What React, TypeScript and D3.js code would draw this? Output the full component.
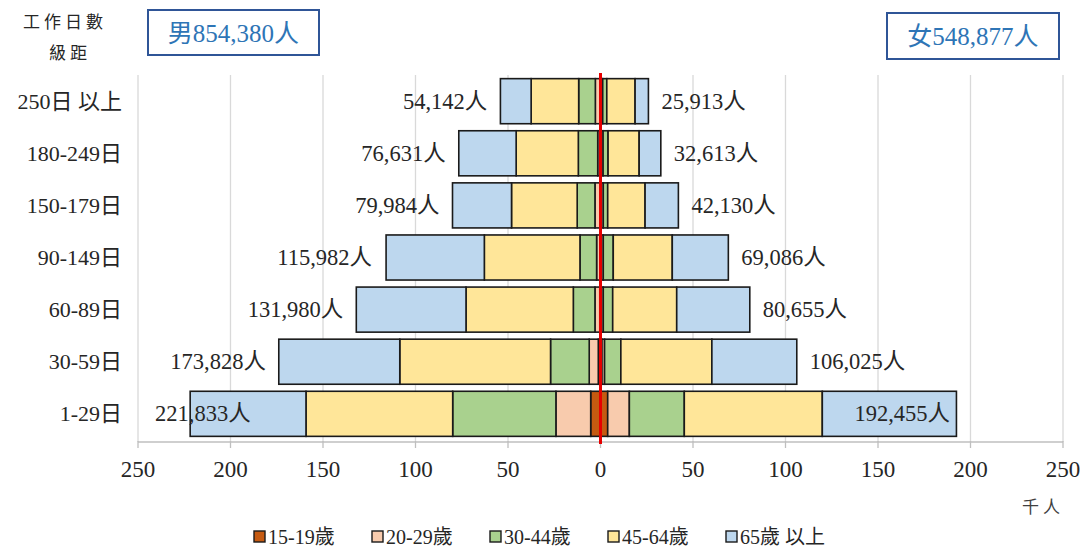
import React from "react";
import * as d3 from "d3";

const categories = ["250日 以上", "180-249日", "150-179日", "90-149日", "60-89日", "30-59日", "1-29日"];
const ageGroups = ["15-19歲", "20-29歲", "30-44歲", "45-64歲", "65歲 以上"];
const ageColors = ["#C55A11", "#F8CBAD", "#A9D18E", "#FFE699", "#BDD7EE"];

const maleTotals = [54142, 76631, 79984, 115982, 131980, 173828, 221833];
const femaleTotals = [25913, 32613, 42130, 69086, 80655, 106025, 192455];

// thousands of persons, per category (top to bottom)
const male1519 = [0.3, 0.3, 0.3, 0.3, 0.4, 1.2, 5.3];
const male2029 = [2.5, 1.2, 2.7, 1.8, 2.6, 4.9, 18.8];
const male3044 = [9.0, 10.5, 9.6, 9.0, 11.7, 20.9, 55.8];
const male4564 = [25.7, 33.6, 35.5, 51.7, 58.0, 81.5, 79.3];
const male65 = [16.6, 31.0, 31.9, 53.1, 59.3, 65.4, 62.6];

const female1519 = [0.2, 0.2, 0.2, 0.3, 0.3, 0.8, 3.9];
const female2029 = [1.0, 1.2, 1.3, 1.2, 1.2, 1.4, 11.7];
const female3044 = [2.2, 2.7, 2.4, 5.4, 5.1, 8.8, 29.7];
const female4564 = [15.3, 16.8, 20.2, 31.9, 34.6, 49.2, 74.6];
const female65 = [7.2, 11.7, 18.0, 30.3, 39.5, 45.9, 72.5];

const xTicks = [-250, -200, -150, -100, -50, 0, 50, 100, 150, 200, 250];
const maleTitle = "男854,380人";
const femaleTitle = "女548,877人";

const FONT = "'Liberation Serif', 'Noto Sans CJK TC', serif";
const CJK = "'Noto Sans CJK TC', 'Liberation Serif', serif";

export default function App() {
  const W = 1085, H = 552;
  const x = d3.scaleLinear().domain([-250, 250]).range([138, 1063]);
  const y = d3.scaleBand<string>().domain(categories).range([75, 440]).paddingInner(0.135).paddingOuter(0.07);
  const bh = y.bandwidth();

  const mk = (arrs: number[][]) =>
    categories.map((c, i) => {
      const o: any = { cat: c };
      ageGroups.forEach((g, k) => (o[g] = arrs[k][i]));
      return o;
    });
  const maleData = mk([male1519, male2029, male3044, male4564, male65]);
  const femaleData = mk([female1519, female2029, female3044, female4564, female65]);
  const stack = d3.stack<any>().keys(ageGroups);
  const maleSeries = stack(maleData);
  const femaleSeries = stack(femaleData);
  const fmt = d3.format(",");
  const fs = 22.5;
  const labelW = (s: string) => {
    let w = 0;
    for (const ch of s) w += ch === "," ? 0.25 : /[0-9]/.test(ch) ? 0.5 : 1;
    return w * fs;
  };

  const axisY = 442;

  return (
    <svg width={W} height={H} style={{ position: "absolute", left: 0, top: 0, background: "#fff" }}>
      {/* gridlines */}
      {xTicks.map((t) => (
        <line key={"g" + t} x1={x(t)} x2={x(t)} y1={75} y2={axisY} stroke="#D9D9D9" strokeWidth={1.3} />
      ))}
      {/* axis */}
      <line x1={x(-250)} x2={x(250)} y1={axisY} y2={axisY} stroke="#BFBFBF" strokeWidth={1.3} />
      {xTicks.map((t) => (
        <g key={"t" + t}>
          <line x1={x(t)} x2={x(t)} y1={axisY - 1} y2={axisY + 6} stroke="#BFBFBF" strokeWidth={1.3} />
          <text x={x(t)} y={469} textAnchor="middle" dominantBaseline="central" fontFamily={FONT} fontSize={23} fill="#262626">
            {Math.abs(t)}
          </text>
        </g>
      ))}
      <text x={1043} y={505} textAnchor="middle" dominantBaseline="central" fontFamily={CJK} fontSize={17} letterSpacing={4} fill="#404040">
        千人
      </text>

      {/* bars */}
      {maleSeries.map((s, k) =>
        s.map((d, i) => (
          <rect
            key={"m" + k + i}
            x={x(-d[1])}
            width={x(-d[0]) - x(-d[1])}
            y={y(categories[i])!}
            height={bh}
            fill={ageColors[k]}
            stroke="#1a1a1a"
            strokeWidth={1.6}
          />
        ))
      )}
      {femaleSeries.map((s, k) =>
        s.map((d, i) => (
          <rect
            key={"f" + k + i}
            x={x(d[0])}
            width={x(d[1]) - x(d[0])}
            y={y(categories[i])!}
            height={bh}
            fill={ageColors[k]}
            stroke="#1a1a1a"
            strokeWidth={1.6}
          />
        ))
      )}
      {/* center red line */}
      <line x1={x(0)} x2={x(0)} y1={73} y2={axisY + 2} stroke="#E60000" strokeWidth={3} />

      {/* total labels */}
      {maleTotals.map((v, i) => {
        const s = fmt(v) + "人";
        const end = x(-v / 1000) - 13;
        const w = labelW(s);
        const start = Math.max(end - w, 155);
        return (
          <text key={"ml" + i} x={start} y={y(categories[i])! + bh / 2} textAnchor="start" dominantBaseline="central" fontFamily={FONT} fontSize={fs} fill="#262626">
            {s}
          </text>
        );
      })}
      {femaleTotals.map((v, i) => {
        const s = fmt(v) + "人";
        const w = labelW(s);
        const start = Math.min(x(v / 1000) + 13, 950 - w);
        return (
          <text key={"fl" + i} x={start} y={y(categories[i])! + bh / 2} textAnchor="start" dominantBaseline="central" fontFamily={FONT} fontSize={fs} fill="#262626">
            {s}
          </text>
        );
      })}

      {/* category labels */}
      {categories.map((c) => (
        <text key={"c" + c} x={122} y={y(c)! + bh / 2} textAnchor="end" dominantBaseline="central" fontFamily={FONT} fontSize={22} fill="#262626">
          {c}
        </text>
      ))}
      <text x={65} y={20} textAnchor="middle" dominantBaseline="central" fontFamily={CJK} fontSize={17} letterSpacing={4} fill="#262626">
        工作日數
      </text>
      <text x={70} y={51} textAnchor="middle" dominantBaseline="central" fontFamily={CJK} fontSize={17} letterSpacing={4} fill="#262626">
        級距
      </text>

      {/* title boxes */}
      <rect x={148} y={10} width={171} height={45} fill="#fff" stroke="#2F5597" strokeWidth={2} />
      <text x={233.5} y={33} textAnchor="middle" dominantBaseline="central" fontFamily={FONT} fontSize={25} fill="#2E75B6">
        {maleTitle}
      </text>
      <rect x={887} y={13} width={172} height={46} fill="#fff" stroke="#2F5597" strokeWidth={2} />
      <text x={973} y={36} textAnchor="middle" dominantBaseline="central" fontFamily={FONT} fontSize={25} fill="#2E75B6">
        {femaleTitle}
      </text>

      {/* legend */}
      {ageGroups.map((g, k) => {
        const lx = 254 + k * 118;
        return (
          <g key={"lg" + g}>
            <rect x={lx} y={531} width={11} height={11} fill={ageColors[k]} stroke="#1a1a1a" strokeWidth={1.4} />
            <text x={lx + 14} y={537} dominantBaseline="central" fontFamily={FONT} fontSize={20} fill="#262626">
              {g}
            </text>
          </g>
        );
      })}
    </svg>
  );
}
